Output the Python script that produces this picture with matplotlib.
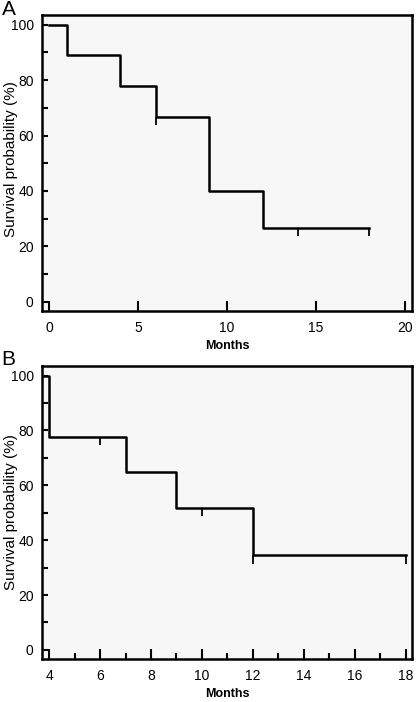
import numpy as np
import matplotlib
matplotlib.use('Agg')
from matplotlib import pyplot as plt
from matplotlib.ticker import MultipleLocator

# panel A: Kaplan-Meier steps
a_times = [0, 1, 4, 6, 9, 12, 18]
a_surv = [100, 88.9, 77.8, 66.7, 40.0, 26.7, 26.7]
a_censor = [6, 14, 18]

# panel B
b_times = [3.7, 4, 7, 9, 12, 18]
b_surv = [100, 77.8, 64.8, 51.8, 34.5, 34.5]
b_censor = [6, 10, 12, 18]

plt.rcParams['font.family'] = ['Liberation Sans', 'DejaVu Sans']

fig = plt.figure(figsize=(4.18, 7.02), dpi=100)
axA = fig.add_axes([0.1005, 0.557, 0.885, 0.4216])
axB = fig.add_axes([0.1005, 0.0613, 0.885, 0.4173])


def km(ax, t, s, cens, xlim, major, minor, label_y):
    ax.set_facecolor('#f7f7f7')
    ax.step(t, s, where='post', color='black', lw=1.8)
    # censoring marks hang below the curve
    tt = np.array(t)
    ss = np.array(s)
    for c in cens:
        idx = np.searchsorted(tt, c, side='right') - 1
        ax.vlines(c, ss[idx] - 3, ss[idx], color='black', lw=1.3)
    ax.set_xlim(*xlim)
    ax.set_ylim(-3.3, 103.5)
    ax.yaxis.set_major_locator(MultipleLocator(20))
    ax.yaxis.set_minor_locator(MultipleLocator(10))
    ax.xaxis.set_major_locator(MultipleLocator(major))
    if minor:
        ax.xaxis.set_minor_locator(MultipleLocator(minor))
    ax.tick_params(axis='both', which='both', direction='in', width=1.5,
                   top=False, right=False, colors='black', labelsize=10)
    ax.tick_params(axis='y', which='both', length=4, pad=6)
    ax.tick_params(axis='x', which='major', length=7, pad=7)
    ax.tick_params(axis='x', which='minor', length=4)
    for sp in ax.spines.values():
        sp.set_linewidth(1.8)
    ax.set_ylabel('Survival probability (%)', fontsize=11)
    ax.yaxis.set_label_coords(-0.064, label_y)
    ax.set_xlabel('Months', fontsize=9, fontweight='bold', labelpad=4)


km(axA, a_times, a_surv, a_censor, (-0.4, 20.4), 5, None, 0.515)
km(axB, b_times, b_surv, b_censor, (3.72, 18.25), 2, 1, 0.5)

fig.text(0.004, 1.0, 'A', fontsize=15, va='top', ha='left')
fig.text(0.004, 0.502, 'B', fontsize=15, va='top', ha='left')

fig.savefig('out.png', dpi=100)
